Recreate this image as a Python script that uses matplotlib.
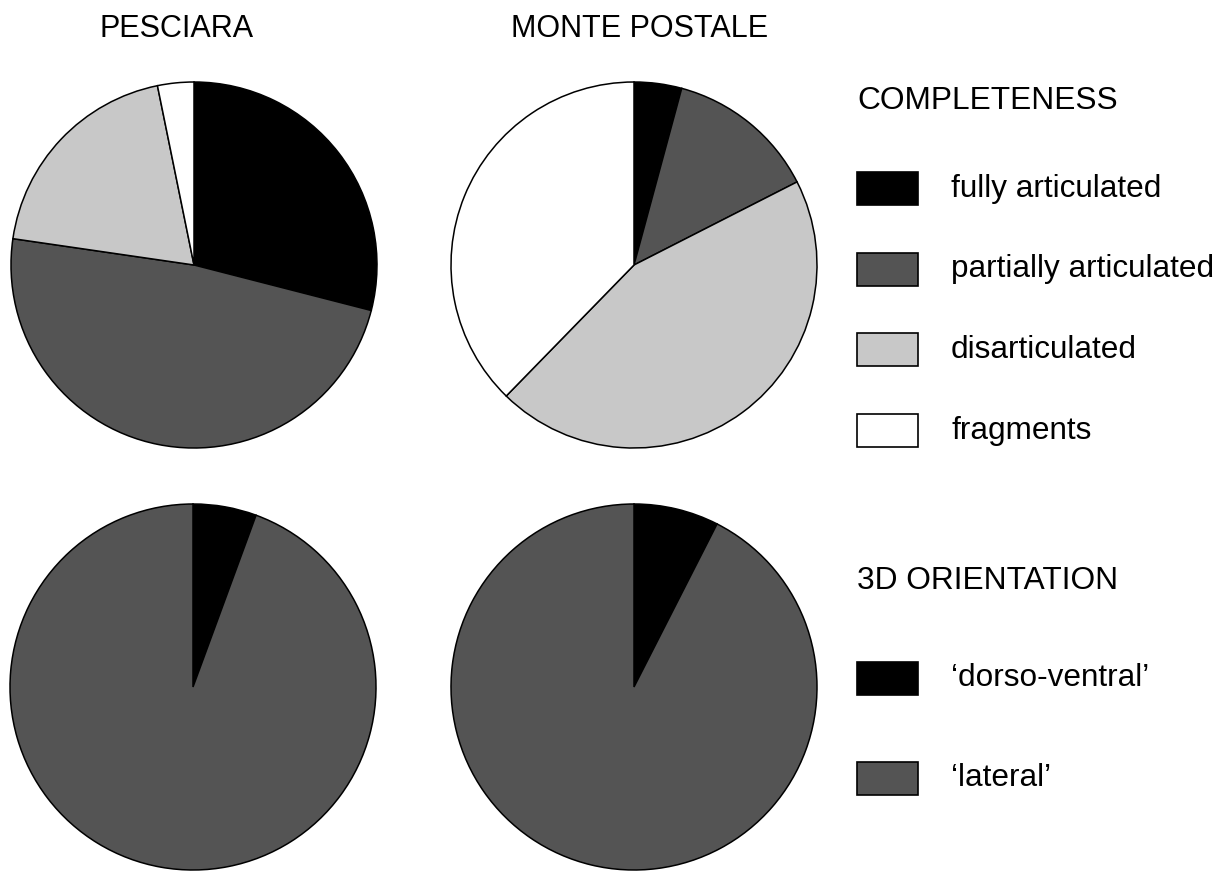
import matplotlib.pyplot as plt
from matplotlib.patches import Rectangle

plt.rcParams['font.family'] = ['Liberation Sans', 'DejaVu Sans']

# data (percent)
sites = ['PESCIARA', 'MONTE POSTALE']
completeness_labels = ['fully articulated', 'partially articulated', 'disarticulated', 'fragments']
completeness_pesciara = [29.0, 48.3, 19.5, 3.2]
completeness_monte = [4.2, 13.3, 44.8, 37.7]
orientation_labels = ["\u2018dorso-ventral\u2019", "\u2018lateral\u2019"]
orientation_pesciara = [5.6, 94.4]
orientation_monte = [7.5, 92.5]

completeness_colors = ['#000000', '#545454', '#c8c8c8', '#ffffff']
orientation_colors = ['#000000', '#545454']

W, H = 1226, 871
fig = plt.figure(figsize=(W / 100, H / 100), dpi=100)


def fx(px):
    return px / W


def fy(py):
    return 1 - py / H


R = 183
pad = 4


def draw_pie(cx, cy, values, colors):
    ax = fig.add_axes([fx(cx - R - pad), fy(cy + R + pad),
                       (2 * R + 2 * pad) / W, (2 * R + 2 * pad) / H])
    ax.pie(values, colors=colors, startangle=90, counterclock=False,
           radius=1, wedgeprops=dict(edgecolor='black', linewidth=1.1))
    lim = (R + pad) / R
    ax.set_xlim(-lim, lim)
    ax.set_ylim(-lim, lim)
    ax.set_aspect('equal')
    ax.axis('off')


draw_pie(194, 265, completeness_pesciara, completeness_colors)
draw_pie(634, 265, completeness_monte, completeness_colors)
draw_pie(193, 687, orientation_pesciara, orientation_colors)
draw_pie(634, 687, orientation_monte, orientation_colors)

# column titles
fig.text(fx(177), fy(29), sites[0], ha='center', va='center', fontsize=22)
fig.text(fx(640), fy(29), sites[1], ha='center', va='center', fontsize=22)


def draw_legend(title, title_y, labels, colors, first_y, step):
    fig.text(fx(857), fy(title_y), title, ha='left', va='center', fontsize=22.8)
    for i, (lab, col) in enumerate(zip(labels, colors)):
        yc = first_y + i * step
        fig.patches.append(Rectangle((fx(857), fy(yc + 16.5)), 61 / W, 33 / H,
                                     transform=fig.transFigure, facecolor=col,
                                     edgecolor='black', linewidth=1.2))
        fig.text(fx(951), fy(yc), lab, ha='left', va='center', fontsize=22.7)


draw_legend('COMPLETENESS', 101, completeness_labels, completeness_colors, 189, 80.5)
draw_legend('3D ORIENTATION', 581, orientation_labels, orientation_colors, 678, 100)

fig.savefig('out.png', dpi=100, facecolor='white')
